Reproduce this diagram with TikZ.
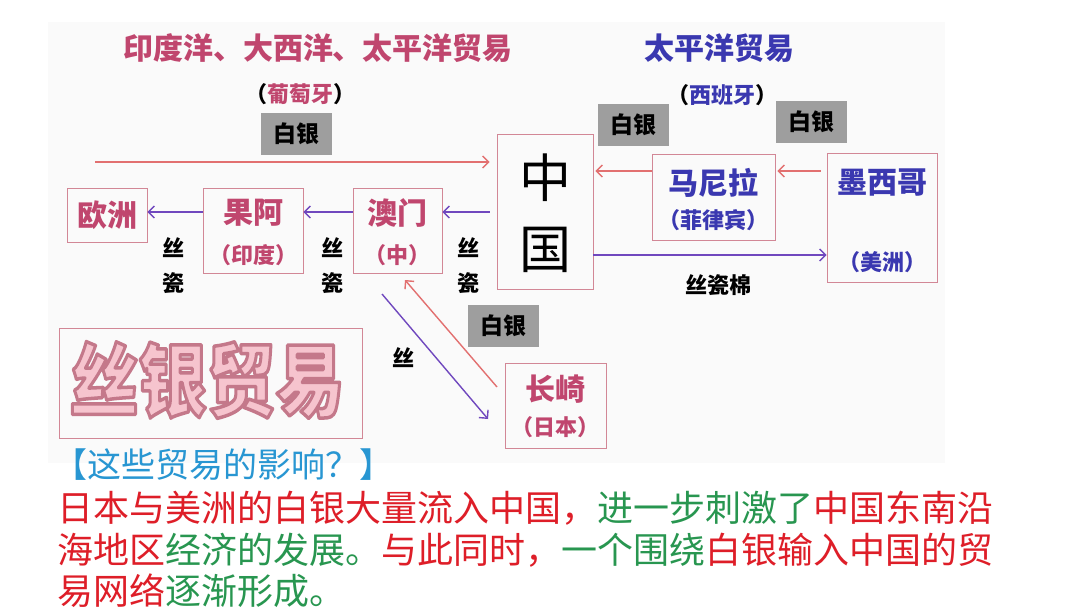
\documentclass[tikz,border=0pt]{standalone}
\usepackage{fontspec}
\setmainfont{Noto Sans CJK SC}
\usetikzlibrary{arrows.meta,calc}
\definecolor{rosetxt}{RGB}{192,70,110}
\definecolor{bluetxt}{RGB}{58,56,176}
\definecolor{boxc}{RGB}{210,135,150}
\definecolor{grayfill}{RGB}{158,158,158}
\definecolor{cRedArr}{RGB}{226,112,112}
\definecolor{cPurArr}{RGB}{112,72,190}
\definecolor{cyantxt}{RGB}{40,150,210}
\definecolor{redtxt}{RGB}{222,30,40}
\definecolor{greentxt}{RGB}{40,150,80}
\definecolor{panel}{RGB}{250,250,250}
\definecolor{pinkfill}{RGB}{246,196,206}
\newcommand{\fsz}[1]{\fontsize{#1}{#1}\selectfont}
\newcommand{\siyinword}{\scalebox{0.86}[1]{丝银贸易}}
\newcommand{\outlined}[1]{{\color{pinkfill}\special{pdf:literal direct 2 Tr 3.5 w 0.77 0.47 0.54 RG 1 j}#1\special{pdf:literal direct 0 Tr 1 w 0 j}}}
\begin{document}
\begin{tikzpicture}[x=1pt,y=-1pt,
  box/.style={draw=boxc, line width=0.8pt, inner sep=0pt},
  silver/.style={fill=grayfill, inner sep=0pt, minimum width=71pt, minimum height=42pt, font=\fsz{23}\bfseries},
  place/.style={inner sep=0pt, font=\fsz{30}\bfseries},
  sub/.style={inner sep=0pt, font=\fsz{22}\bfseries},
  lab/.style={inner sep=0pt, font=\fontsize{22}{35}\selectfont\bfseries, align=center},
  redline/.style={draw=cRedArr, line width=1.4pt, -{Straight Barb[length=6pt,width=12pt]}},
  purline/.style={draw=cPurArr, line width=1.4pt, -{Straight Barb[length=6pt,width=12pt]}},
  siyintxt/.style={inner sep=0pt, font=\fsz{80}\bfseries},
  body/.style={inner sep=0pt, anchor=west, font=\fsz{36}}
]
\useasboundingbox (0,0) rectangle (1080,608);
\fill[white] (0,0) rectangle (1080,608);
\fill[panel] (48,22) rectangle (945,463);

% titles
\node[place, text=rosetxt] (t1) at (318,48) {印度洋、大西洋、太平洋贸易};
\node[sub] (t1s) at (300,94) {（\textcolor{rosetxt}{葡萄牙}）};
\node[place, text=bluetxt] (t2) at (719,48) {太平洋贸易};
\node[sub] (t2s) at (722,95) {（\textcolor{bluetxt}{西班牙}）};

% boxes
\node[box, minimum width=80pt, minimum height=54pt] (ouzhou) at (107,215) {};
\node[box, minimum width=100pt, minimum height=85pt] (guoa) at (253,230.5) {};
\node[box, minimum width=89pt, minimum height=85pt] (aomen) at (397.5,230.5) {};
\node[box, minimum width=96pt, minimum height=155pt] (china) at (545,211.5) {};
\node[box, minimum width=123pt, minimum height=86pt] (manila) at (713.5,197) {};
\node[box, minimum width=110pt, minimum height=129pt] (mexico) at (882,217.5) {};
\node[box, minimum width=101pt, minimum height=85pt] (naga) at (555.5,405.5) {};
\node[box, minimum width=303pt, minimum height=110pt] (siyin) at (210.5,383) {};

% box texts
\node[place, text=rosetxt] (ouzhout) at (107,215) {欧洲};
\node[place, text=rosetxt] (guoat) at (253,213) {果阿};
\node[sub, text=rosetxt] (guoas) at (253,255) {（印度）};
\node[place, text=rosetxt] (aoment) at (397.5,213) {澳门};
\node[sub, text=rosetxt] (aomens) at (397.5,255) {（中）};
\node[inner sep=0pt, font=\fsz{52}] (zhong) at (545,178) {中};
\node[inner sep=0pt, font=\fsz{52}] (guo) at (545,250) {国};
\node[place, text=bluetxt] (manilat) at (713.5,183) {马尼拉};
\node[sub, text=bluetxt] (manilas) at (713.5,220) {（菲律宾）};
\node[place, text=bluetxt] (mexicot) at (882,183) {墨西哥};
\node[sub, text=bluetxt] (mexicos) at (882,262) {（美洲）};
\node[place, text=rosetxt] (nagat) at (555.5,389) {长崎};
\node[sub, text=rosetxt] (nagas) at (555.5,427) {（日本）};

% silver tags
\node[silver] (s1) at (296.5,134) {白银};
\node[silver] (s2) at (633.5,125) {白银};
\node[silver] (s3) at (811,122) {白银};
\node[silver] (s4) at (503.5,326) {白银};

% goods labels
\node[lab] (l1) at (173,266) {丝\\瓷};
\node[lab] (l2) at (332,266) {丝\\瓷};
\node[lab] (l3) at (468,266) {丝\\瓷};
\node[lab] (l4) at (718,285) {丝瓷棉};
\node[lab] (l5) at (403,358) {丝};

% arrows
\coordinate (ls) at (95,162);
\coordinate (ry) at (0,212);
\coordinate (my) at (0,171);
\coordinate (py) at (0,255);
\draw[redline] (ls) -- ([xshift=-7pt]china.west |- ls);
\draw[purline] ([xshift=-7pt]china.west |- ry) -- (aomen.east |- ry);
\draw[purline] (aomen.west |- ry) -- (guoa.east |- ry);
\draw[purline] (guoa.west |- ry) -- (ouzhou.east |- ry);
\draw[redline] ([xshift=-6pt]mexico.west |- my) -- ([xshift=2pt]manila.east |- my);
\draw[redline] (manila.west |- my) -- ([xshift=2pt]china.east |- my);
\draw[purline] (china.east |- py) -- (mexico.west |- py);
\coordinate (nA) at (497,387);
\coordinate (aB) at (405,280);
\coordinate (aC) at (382,294);
\coordinate (nD) at (488,419);
\draw[redline] (nA) -- (aB);
\draw[purline] (aC) -- (nD);

% word art
\node[siyintxt] (siyint) at (207,380) {\outlined{\siyinword}};

% bottom text
\node[inner sep=0pt, anchor=west, font=\fsz{34}, text=cyantxt] (q) at (53,465) {【这些贸易的影响？】};
\node[body] (b1) at (57,508) {\textcolor{redtxt}{日本与美洲的白银大量流入中国，}\textcolor{greentxt}{进一步刺激了}\textcolor{redtxt}{中国东南沿}};
\node[body] (b2) at (57,550) {\textcolor{redtxt}{海地区}\textcolor{greentxt}{经济的发展。}\textcolor{redtxt}{与此同时，}\textcolor{greentxt}{一个围绕}\textcolor{redtxt}{白银输入中国的贸}};
\node[body] (b3) at (57,591) {\textcolor{redtxt}{易网络}\textcolor{greentxt}{逐渐形成。}};
\end{tikzpicture}
\end{document}
